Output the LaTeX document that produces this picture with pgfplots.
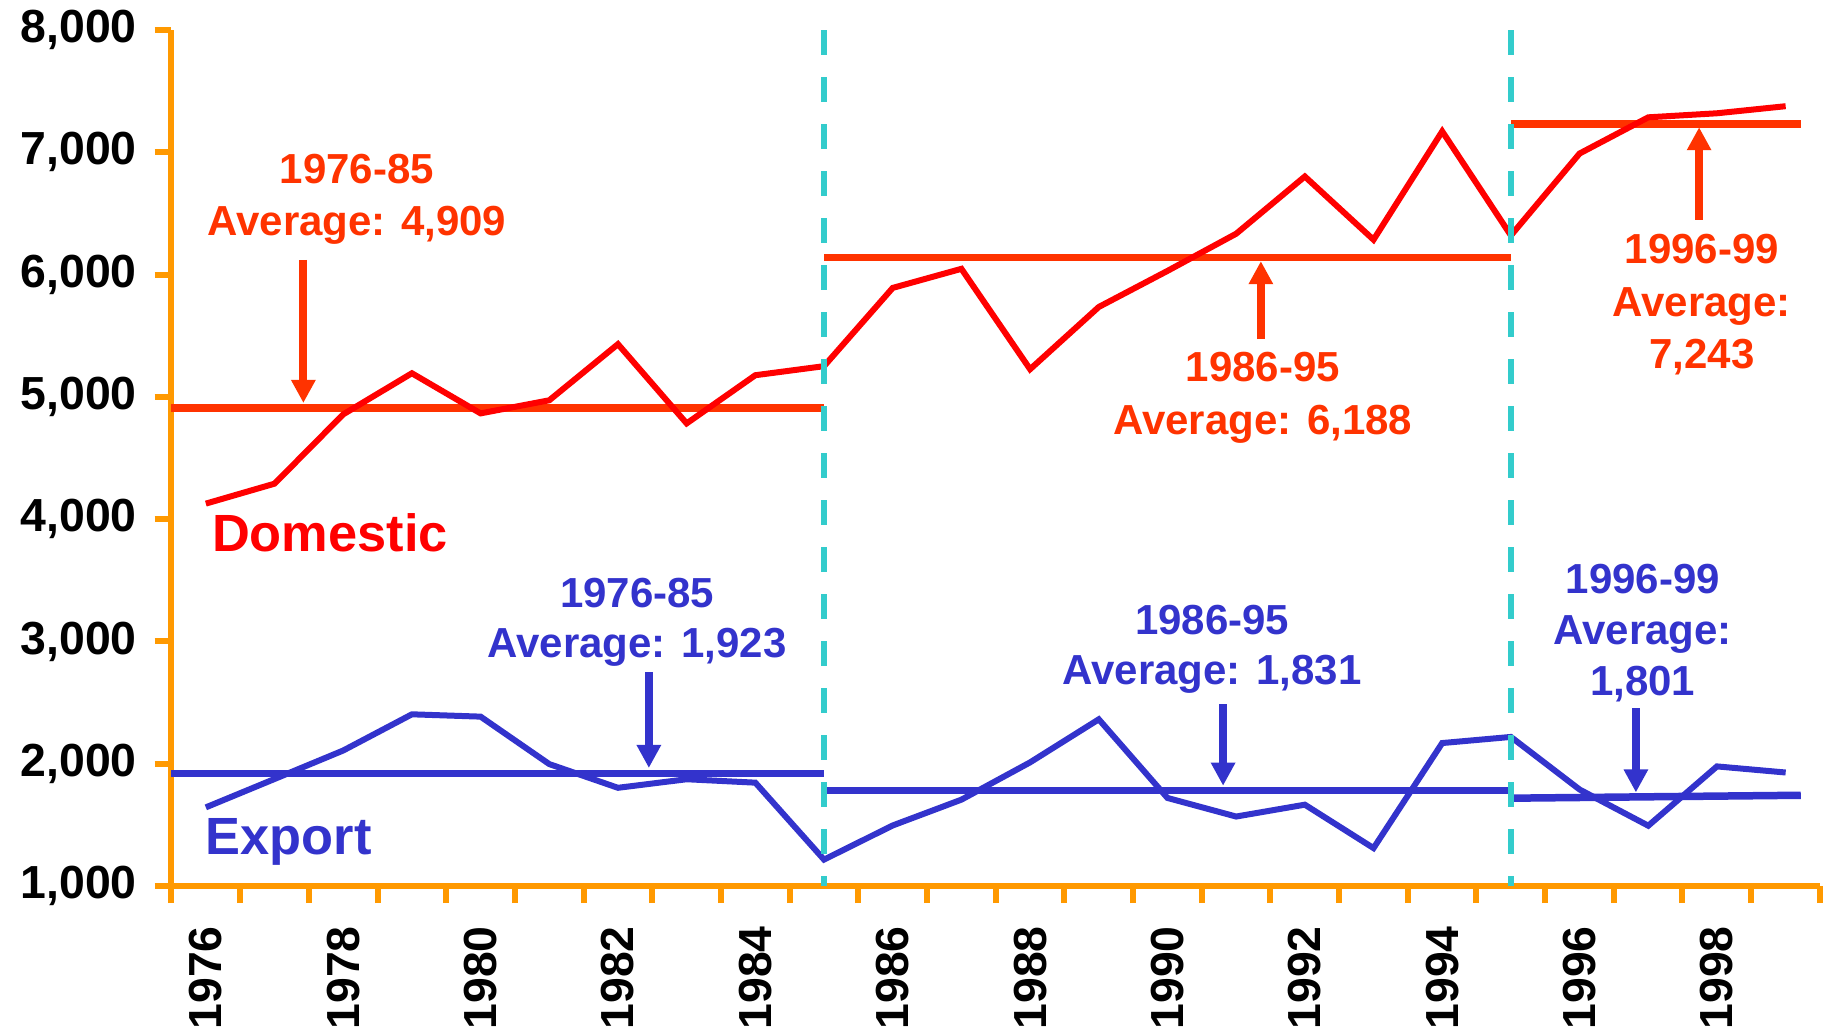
\documentclass[border=0pt]{standalone}
\usepackage{pgfplots}
\pgfplotsset{compat=1.18}
\usepackage{fontspec}
\setmainfont{Liberation Sans}
\usetikzlibrary{arrows.meta}

\definecolor{domred}{RGB}{255,0,0}
\definecolor{annred}{RGB}{255,51,0}
\definecolor{expblue}{RGB}{51,51,204}
\definecolor{axorange}{RGB}{255,153,0}
\definecolor{divcyan}{RGB}{51,204,204}

% one line of annotation text, baseline centred at (year, value)
\newcommand{\ann}[4]{\node[anchor=base, text=#1, inner sep=0pt,
  font=\fontsize{11.95}{14}\selectfont\bfseries] at (axis cs:#2,#3) {#4};}
\newcommand{\arr}[4]{\draw[#1, line width=0.08cm,
  -{Triangle[length=0.23cm,width=0.23cm]}] (axis cs:#2,#3) -- (axis cs:#2,#4);}

\begin{document}
\begin{tikzpicture}
\path[use as bounding box] (-1.715cm,-1.44cm) rectangle (16.575cm,8.86cm);
\begin{axis}[
    at={(0,0)}, anchor=south west,
    scale only axis, width=16.485cm, height=8.56cm,
    xmin=1975.5, xmax=1999.5, ymin=1000, ymax=8000,
    axis x line*=bottom, axis y line*=left,
    axis line style={draw=axorange, line width=0.06cm},
    tick align=outside,
    major tick length=0.17cm, minor tick length=0.17cm,
    tick style={draw=axorange, line width=0.06cm},
    xtick={1976,1978,...,1998},
    major x tick style={draw=none},
    minor xtick={1975.5,1976.5,...,1999.5},
    ytick={1000,2000,...,8000},
    x tick label style={rotate=90, anchor=east, inner xsep=0.225cm,
        font=\fontsize{13.2}{15}\selectfont\bfseries,
        /pgf/number format/1000 sep={},
        /pgf/number format/assume math mode=true},
    y tick label style={inner xsep=0.17cm,
        font=\fontsize{13.2}{15}\selectfont\bfseries,
        /pgf/number format/1000 sep={,},
        /pgf/number format/assume math mode=true},
    clip=false,
]
% period averages
\addplot[annred, line width=0.075cm] coordinates {(1975.5,4910) (1985,4910)};
\addplot[annred, line width=0.075cm] coordinates {(1985,6140) (1995,6140)};
\addplot[annred, line width=0.075cm] coordinates {(1995,7230) (1999.22,7230)};
\addplot[expblue, line width=0.075cm] coordinates {(1975.5,1920) (1985,1920)};
\addplot[expblue, line width=0.075cm] coordinates {(1985,1780) (1995,1780)};
\addplot[expblue, line width=0.075cm] coordinates {(1995,1718) (1999.22,1742)};

% domestic
\addplot[domred, line width=0.06cm] coordinates {
 (1976,4127) (1977,4290) (1978,4857) (1979,5193) (1980,4865)
 (1981,4972) (1982,5431) (1983,4783) (1984,5177) (1985,5251)
 (1986,5891) (1987,6047) (1988,5226) (1989,5735) (1990,6030)
 (1991,6334) (1992,6802) (1993,6285) (1994,7171) (1995,6320)
 (1996,6990) (1997,7286) (1998,7319) (1999,7377)};
% export
\addplot[expblue, line width=0.06cm] coordinates {
 (1976,1643) (1977,1875) (1978,2108) (1979,2404) (1980,2385)
 (1981,1997) (1982,1803) (1983,1873) (1984,1845) (1985,1216)
 (1986,1495) (1987,1706) (1988,2011) (1989,2363) (1990,1720)
 (1991,1568) (1992,1665) (1993,1310) (1994,2169) (1995,2219)
 (1996,1789) (1997,1493) (1998,1978) (1999,1928)};

% period dividers
\addplot[divcyan, line width=0.06cm, dash pattern=on 0.25cm off 0.22cm]
  coordinates {(1985,8000) (1985,1000)};
\addplot[divcyan, line width=0.06cm, dash pattern=on 0.25cm off 0.22cm]
  coordinates {(1995,8000) (1995,1000)};

% annotations
\ann{annred}{1978.20}{6744}{1976-85}
\ann{annred}{1978.20}{6318}{Average: 4,909}
\ann{annred}{1991.39}{5128}{1986-95}
\ann{annred}{1991.39}{4693}{Average: 6,188}
\ann{annred}{1997.78}{6088}{1996-99}
\ann{annred}{1997.78}{5661}{Average:}
\ann{annred}{1997.78}{5234}{7,243}
\ann{expblue}{1982.28}{3281}{1976-85}
\ann{expblue}{1982.28}{2871}{Average: 1,923}
\ann{expblue}{1990.65}{3060}{1986-95}
\ann{expblue}{1990.65}{2649}{Average: 1,831}
\ann{expblue}{1996.92}{3388}{1996-99}
\ann{expblue}{1996.92}{2978}{Average:}
\ann{expblue}{1996.92}{2559}{1,801}

\arr{annred}{1977.42}{6121}{4950}
\arr{annred}{1991.36}{5472}{6110}
\arr{annred}{1997.74}{6449}{7205}
\arr{expblue}{1982.45}{2748}{1965}
\arr{expblue}{1990.81}{2485}{1820}
\arr{expblue}{1996.82}{2452}{1765}

\node[anchor=base west, text=domred, inner sep=0pt,
  font=\fontsize{14.9}{17}\selectfont\bfseries] at (axis cs:1976.08,3733) {Domestic};
\node[anchor=base west, text=expblue, inner sep=0pt,
  font=\fontsize{14.9}{17}\selectfont\bfseries] at (axis cs:1975.99,1254) {Export};
\end{axis}
\end{tikzpicture}
\end{document}
